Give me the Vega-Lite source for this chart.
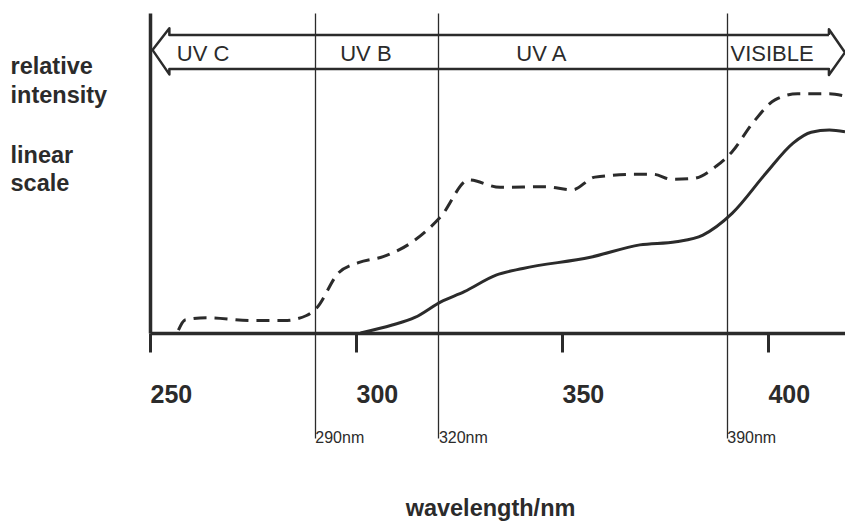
{
  "$schema": "https://vega.github.io/schema/vega-lite/v6.json",
  "width": 695,
  "height": 320,
  "autosize": {"type": "none"},
  "padding": {"left": 150, "top": 13, "right": 0, "bottom": 189},
  "background": "white",
  "config": {"view": {"stroke": null}, "font": "Liberation Sans"},
  "datasets": {
    "solid": [
      {"wl": 301.1, "v": 0}, {"wl": 308.8, "v": 2.5}, {"wl": 314.3, "v": 4.9}, {"wl": 320.6, "v": 9.8},
      {"wl": 326.3, "v": 13}, {"wl": 334, "v": 18.2}, {"wl": 340.5, "v": 20.3}, {"wl": 356.9, "v": 23.8},
      {"wl": 368.9, "v": 27.7}, {"wl": 377.7, "v": 28.7}, {"wl": 384.2, "v": 30.8}, {"wl": 391.3, "v": 37.6},
      {"wl": 399.5, "v": 50.2}, {"wl": 406.1, "v": 59.7}, {"wl": 410.5, "v": 63.1}, {"wl": 414.9, "v": 63.8},
      {"wl": 418.7, "v": 63.3}
    ],
    "dashed": [
      {"wl": 256.9, "v": 0.9}, {"wl": 258.5, "v": 4.1}, {"wl": 264, "v": 4.8}, {"wl": 274.9, "v": 3.9},
      {"wl": 282.5, "v": 3.9}, {"wl": 288, "v": 5.5}, {"wl": 290.4, "v": 7.8}, {"wl": 295.7, "v": 18.8},
      {"wl": 300.6, "v": 22.1}, {"wl": 306.6, "v": 24}, {"wl": 313.2, "v": 28.2}, {"wl": 320.6, "v": 36.6},
      {"wl": 327.4, "v": 48.1}, {"wl": 335, "v": 45.8}, {"wl": 346, "v": 46}, {"wl": 352.5, "v": 45},
      {"wl": 358, "v": 49}, {"wl": 367.8, "v": 49.9}, {"wl": 372.2, "v": 49.9}, {"wl": 376.6, "v": 48.3},
      {"wl": 382, "v": 48.6}, {"wl": 387.5, "v": 52.5}, {"wl": 391.3, "v": 57}, {"wl": 396.3, "v": 66},
      {"wl": 401.7, "v": 73.3}, {"wl": 407.2, "v": 75.2}, {"wl": 414.9, "v": 75.2}, {"wl": 418.7, "v": 74.5}
    ],
    "arrow": [
      {"i": 1, "wl": 414.8, "v": 93.7}, {"i": 2, "wl": 414.8, "v": 95.5}, {"i": 3, "wl": 418.7, "v": 88.2},
      {"i": 4, "wl": 414.8, "v": 81.1}, {"i": 5, "wl": 414.8, "v": 83.0}, {"i": 6, "wl": 254.7, "v": 83.0},
      {"i": 7, "wl": 254.7, "v": 81.3}, {"i": 8, "wl": 250.6, "v": 89.0}, {"i": 9, "wl": 254.7, "v": 95.8},
      {"i": 10, "wl": 254.7, "v": 93.7}, {"i": 11, "wl": 414.8, "v": 93.7}
    ],
    "bands": [
      {"label": "UV C", "wl": 262.9, "v": 87.7},
      {"label": "UV  B", "wl": 302.4, "v": 87.7},
      {"label": "UV A", "wl": 345, "v": 87.7},
      {"label": "VISIBLE", "wl": 401, "v": 87.7}
    ]
  },
  "layer": [
    {
      "data": {"name": "solid"},
      "mark": {"type": "line", "interpolate": "monotone", "color": "#2b2b2b", "strokeWidth": 3},
      "encoding": {
        "x": {
          "field": "wl", "type": "quantitative",
          "scale": {"domain": [250, 418.7], "nice": false, "zero": false},
          "axis": {
            "orient": "bottom", "values": [250, 300, 350, 400], "grid": false,
            "domainColor": "#2b2b2b", "domainWidth": 3.5,
            "tickColor": "#2b2b2b", "tickWidth": 3, "tickSize": 19,
            "labelFont": "Liberation Sans", "labelFontSize": 25, "labelFontWeight": "bold", "labelColor": "#2b2b2b",
            "labelAlign": "left", "labelBaseline": "top", "labelPadding": 30, "labelDx": -2, "labelFlush": false,
            "title": "wavelength/nm", "titleFont": "Liberation Sans", "titleFontSize": 23.5, "titleFontWeight": "bold",
            "titleColor": "#2b2b2b", "titleX": 340, "titleY": 163, "titleBaseline": "top", "titleAlign": "center"
          }
        },
        "y": {
          "field": "v", "type": "quantitative",
          "scale": {"domain": [0, 100.6], "nice": false, "zero": false},
          "axis": {
            "orient": "left", "grid": false, "ticks": false, "labels": false,
            "domainColor": "#2b2b2b", "domainWidth": 3.5,
            "title": ["relative", "intensity"], "titleAngle": 0, "titleAlign": "left", "titleBaseline": "alphabetic",
            "titleX": -140, "titleY": 60, "titleFont": "Liberation Sans", "titleFontSize": 23.5, "titleFontWeight": "bold",
            "titleColor": "#2b2b2b", "titleLineHeight": 29
          }
        }
      }
    },
    {
      "data": {"name": "dashed"},
      "mark": {"type": "line", "interpolate": "monotone", "color": "#2b2b2b", "strokeWidth": 3, "strokeDash": [13, 8]},
      "encoding": {
        "x": {
          "field": "wl", "type": "quantitative",
          "scale": {"domain": [250, 418.7], "nice": false, "zero": false},
          "axis": {
            "orient": "bottom", "values": [290, 320, 390], "domain": false,
            "grid": true, "gridColor": "#2b2b2b", "gridWidth": 1.3, "gridOpacity": 1,
            "ticks": true, "tickColor": "#2b2b2b", "tickWidth": 1.3, "tickSize": 105,
            "labelExpr": "'\u00a0' + datum.value + 'nm'", "labelAlign": "left", "labelBaseline": "alphabetic",
            "labelPadding": 4, "labelDx": 3, "labelFont": "Liberation Sans", "labelFontSize": 16,
            "labelColor": "#2b2b2b", "labelFlush": false, "labelOverlap": false, "title": null
          }
        },
        "y": {
          "field": "v", "type": "quantitative",
          "scale": {"domain": [0, 100.6], "nice": false, "zero": false},
          "axis": {
            "orient": "left", "domain": false, "grid": false, "ticks": false, "labels": false,
            "title": ["linear", "scale"], "titleAngle": 0, "titleAlign": "left", "titleBaseline": "alphabetic",
            "titleX": -140, "titleY": 149, "titleFont": "Liberation Sans", "titleFontSize": 23.5, "titleFontWeight": "bold",
            "titleColor": "#2b2b2b", "titleLineHeight": 28
          }
        }
      }
    },
    {
      "data": {"name": "arrow"},
      "mark": {"type": "line", "color": "#2b2b2b", "strokeWidth": 2.5, "strokeJoin": "round"},
      "encoding": {
        "x": {"field": "wl", "type": "quantitative", "scale": {"domain": [250, 418.7], "nice": false, "zero": false}, "axis": null},
        "y": {"field": "v", "type": "quantitative", "scale": {"domain": [0, 100.6], "nice": false, "zero": false}, "axis": null},
        "order": {"field": "i", "type": "quantitative"}
      }
    },
    {
      "data": {"name": "bands"},
      "mark": {"type": "text", "font": "Liberation Sans", "fontSize": 22, "color": "#2b2b2b", "align": "center", "baseline": "middle"},
      "encoding": {
        "x": {"field": "wl", "type": "quantitative", "scale": {"domain": [250, 418.7], "nice": false, "zero": false}, "axis": null},
        "y": {"field": "v", "type": "quantitative", "scale": {"domain": [0, 100.6], "nice": false, "zero": false}, "axis": null},
        "text": {"field": "label", "type": "nominal"}
      }
    }
  ],
  "resolve": {"axis": {"x": "independent", "y": "independent"}}
}
